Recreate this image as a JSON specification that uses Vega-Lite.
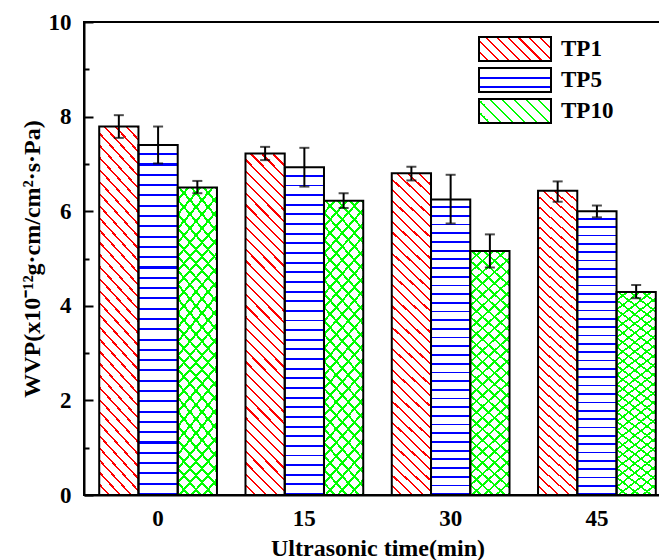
{
  "$schema": "https://vega.github.io/schema/vega-lite/v6.json",
  "width": 587,
  "height": 473,
  "autosize": {"type": "none"},
  "padding": {"left": 84, "top": 22, "right": -12, "bottom": 65},
  "background": "white",
  "config": {
    "view": {"stroke": "black", "strokeWidth": 2},
    "axis": {"domainColor": "black", "domainWidth": 2, "tickColor": "black", "tickWidth": 2, "labelFont": "Liberation Serif", "labelFontSize": 23, "labelFontWeight": "bold", "labelColor": "black", "titleFont": "Liberation Serif", "titleFontSize": 24, "titleFontWeight": "bold", "titleColor": "black", "grid": false}
  },
  "data": {"values": [
    {"time": "0", "series": "TP1", "value": 7.79, "lo": 7.55, "hi": 8.03},
    {"time": "0", "series": "TP5", "value": 7.40, "lo": 7.01, "hi": 7.79},
    {"time": "0", "series": "TP10", "value": 6.50, "lo": 6.38, "hi": 6.64},
    {"time": "15", "series": "TP1", "value": 7.22, "lo": 7.08, "hi": 7.36},
    {"time": "15", "series": "TP5", "value": 6.93, "lo": 6.52, "hi": 7.34},
    {"time": "15", "series": "TP10", "value": 6.22, "lo": 6.07, "hi": 6.38},
    {"time": "30", "series": "TP1", "value": 6.80, "lo": 6.65, "hi": 6.94},
    {"time": "30", "series": "TP5", "value": 6.25, "lo": 5.74, "hi": 6.77},
    {"time": "30", "series": "TP10", "value": 5.16, "lo": 4.81, "hi": 5.51},
    {"time": "45", "series": "TP1", "value": 6.43, "lo": 6.20, "hi": 6.63},
    {"time": "45", "series": "TP5", "value": 6.00, "lo": 5.87, "hi": 6.12},
    {"time": "45", "series": "TP10", "value": 4.29, "lo": 4.16, "hi": 4.44}
  ]},
  "encoding": {
    "x": {"field": "time", "type": "nominal", "sort": ["0", "15", "30", "45"], "title": "Ultrasonic time(min)",
      "scale": {"paddingInner": 0.195, "paddingOuter": 0.104},
      "axis": {"labelAngle": 0, "tickSize": -8, "labelPadding": 20, "titlePadding": 6}},
    "xOffset": {"field": "series", "type": "nominal", "sort": ["TP1", "TP5", "TP10"], "scale": {"domain": ["TP1", "TP5", "TP10"], "paddingInner": 0, "paddingOuter": 0}}
  },
  "layer": [
    {
      "mark": {"type": "bar", "strokeWidth": 0},
      "encoding": {
        "y": {"field": "value", "type": "quantitative", "title": "WVP(x10⁻¹²g·cm/cm²·s·Pa)", "scale": {"domain": [0, 10], "nice": false},
          "axis": {"values": [0, 1, 2, 3, 4, 5, 6, 7, 8, 9, 10], "labelExpr": "datum.value % 2 === 0 ? datum.label : ''", "labelOverlap": false, "labelFlush": false,
            "tickSize": {"condition": {"test": "datum.value % 2 !== 0", "value": -5}, "value": -9}, "labelPadding": 22, "titlePadding": 4}},
        "fill": {"field": "series", "type": "nominal", "sort": ["TP1", "TP5", "TP10"],
          "scale": {"domain": ["TP1", "TP5", "TP10"], "range": [
            {"expr": "{gradient:'linear',x1:0,y1:1,x2:1.2,y2:0.6,stops:[{offset:0.0889,color:'#fff'},{offset:0.0889,color:'#f00'},{offset:0.1111,color:'#f00'},{offset:0.1111,color:'#fff'},{offset:0.2,color:'#fff'},{offset:0.2,color:'#f00'},{offset:0.2222,color:'#f00'},{offset:0.2222,color:'#fff'},{offset:0.3111,color:'#fff'},{offset:0.3111,color:'#f00'},{offset:0.3333,color:'#f00'},{offset:0.3333,color:'#fff'},{offset:0.4222,color:'#fff'},{offset:0.4222,color:'#f00'},{offset:0.4444,color:'#f00'},{offset:0.4444,color:'#fff'},{offset:0.5333,color:'#fff'},{offset:0.5333,color:'#f00'},{offset:0.5556,color:'#f00'},{offset:0.5556,color:'#fff'},{offset:0.6444,color:'#fff'},{offset:0.6444,color:'#f00'},{offset:0.6667,color:'#f00'},{offset:0.6667,color:'#fff'},{offset:0.7556,color:'#fff'},{offset:0.7556,color:'#f00'},{offset:0.7778,color:'#f00'},{offset:0.7778,color:'#fff'},{offset:0.8667,color:'#fff'},{offset:0.8667,color:'#f00'},{offset:0.8889,color:'#f00'},{offset:0.8889,color:'#fff'},{offset:0.9778,color:'#fff'},{offset:0.9778,color:'#f00'},{offset:1,color:'#f00'}]}"},
            {"expr": "{gradient:'linear',x1:0,y1:0,x2:0,y2:1,stops:[{offset:0.38,color:'#fff'},{offset:0.38,color:'#00f'},{offset:0.47,color:'#00f'},{offset:0.47,color:'#fff'},{offset:0.76,color:'#fff'},{offset:0.76,color:'#00f'},{offset:0.85,color:'#00f'},{offset:0.85,color:'#fff'}]}"},
            {"expr": "{gradient:'linear',x1:0,y1:1,x2:1.2,y2:0.6,stops:[{offset:0.0975,color:'#fff'},{offset:0.0975,color:'#0f0'},{offset:0.125,color:'#0f0'},{offset:0.125,color:'#fff'},{offset:0.2225,color:'#fff'},{offset:0.2225,color:'#0f0'},{offset:0.25,color:'#0f0'},{offset:0.25,color:'#fff'},{offset:0.3475,color:'#fff'},{offset:0.3475,color:'#0f0'},{offset:0.375,color:'#0f0'},{offset:0.375,color:'#fff'},{offset:0.4725,color:'#fff'},{offset:0.4725,color:'#0f0'},{offset:0.5,color:'#0f0'},{offset:0.5,color:'#fff'},{offset:0.5975,color:'#fff'},{offset:0.5975,color:'#0f0'},{offset:0.625,color:'#0f0'},{offset:0.625,color:'#fff'},{offset:0.7225,color:'#fff'},{offset:0.7225,color:'#0f0'},{offset:0.75,color:'#0f0'},{offset:0.75,color:'#fff'},{offset:0.8475,color:'#fff'},{offset:0.8475,color:'#0f0'},{offset:0.875,color:'#0f0'},{offset:0.875,color:'#fff'},{offset:0.9725,color:'#fff'},{offset:0.9725,color:'#0f0'},{offset:1,color:'#0f0'}]}"}
          ]},
          "legend": {"orient": "none", "legendX": 418, "legendY": 14, "title": null, "padding": 0,
            "symbolType": "M-3,-1H3V1H-3Z", "symbolSize": 576, "symbolStrokeColor": "black", "symbolStrokeWidth": 2,
            "labelFont": "Liberation Serif", "labelFontSize": 23, "labelFontWeight": "bold", "labelColor": "black", "labelOffset": 33, "rowPadding": -1},
          "condition": [
            {"test": "datum.series === 'TP1'", "value": {"gradient": "linear", "x1": 0, "y1": 1, "x2": 0.129, "y2": -0.102, "stops": [
              {"offset":0.0235,"color":"#fff"},{"offset":0.0235,"color":"#f00"},{"offset":0.0294,"color":"#f00"},{"offset":0.0294,"color":"#fff"},
              {"offset":0.0529,"color":"#fff"},{"offset":0.0529,"color":"#f00"},{"offset":0.0588,"color":"#f00"},{"offset":0.0588,"color":"#fff"},
              {"offset":0.0824,"color":"#fff"},{"offset":0.0824,"color":"#f00"},{"offset":0.0882,"color":"#f00"},{"offset":0.0882,"color":"#fff"},
              {"offset":0.1118,"color":"#fff"},{"offset":0.1118,"color":"#f00"},{"offset":0.1176,"color":"#f00"},{"offset":0.1176,"color":"#fff"},
              {"offset":0.1412,"color":"#fff"},{"offset":0.1412,"color":"#f00"},{"offset":0.1471,"color":"#f00"},{"offset":0.1471,"color":"#fff"},
              {"offset":0.1706,"color":"#fff"},{"offset":0.1706,"color":"#f00"},{"offset":0.1765,"color":"#f00"},{"offset":0.1765,"color":"#fff"},
              {"offset":0.2,"color":"#fff"},{"offset":0.2,"color":"#f00"},{"offset":0.2059,"color":"#f00"},{"offset":0.2059,"color":"#fff"},
              {"offset":0.2294,"color":"#fff"},{"offset":0.2294,"color":"#f00"},{"offset":0.2353,"color":"#f00"},{"offset":0.2353,"color":"#fff"},
              {"offset":0.2588,"color":"#fff"},{"offset":0.2588,"color":"#f00"},{"offset":0.2647,"color":"#f00"},{"offset":0.2647,"color":"#fff"},
              {"offset":0.2882,"color":"#fff"},{"offset":0.2882,"color":"#f00"},{"offset":0.2941,"color":"#f00"},{"offset":0.2941,"color":"#fff"},
              {"offset":0.3176,"color":"#fff"},{"offset":0.3176,"color":"#f00"},{"offset":0.3235,"color":"#f00"},{"offset":0.3235,"color":"#fff"},
              {"offset":0.3471,"color":"#fff"},{"offset":0.3471,"color":"#f00"},{"offset":0.3529,"color":"#f00"},{"offset":0.3529,"color":"#fff"},
              {"offset":0.3765,"color":"#fff"},{"offset":0.3765,"color":"#f00"},{"offset":0.3824,"color":"#f00"},{"offset":0.3824,"color":"#fff"},
              {"offset":0.4059,"color":"#fff"},{"offset":0.4059,"color":"#f00"},{"offset":0.4118,"color":"#f00"},{"offset":0.4118,"color":"#fff"},
              {"offset":0.4353,"color":"#fff"},{"offset":0.4353,"color":"#f00"},{"offset":0.4412,"color":"#f00"},{"offset":0.4412,"color":"#fff"},
              {"offset":0.4647,"color":"#fff"},{"offset":0.4647,"color":"#f00"},{"offset":0.4706,"color":"#f00"},{"offset":0.4706,"color":"#fff"},
              {"offset":0.4941,"color":"#fff"},{"offset":0.4941,"color":"#f00"},{"offset":0.5,"color":"#f00"},{"offset":0.5,"color":"#fff"},
              {"offset":0.5235,"color":"#fff"},{"offset":0.5235,"color":"#f00"},{"offset":0.5294,"color":"#f00"},{"offset":0.5294,"color":"#fff"},
              {"offset":0.5529,"color":"#fff"},{"offset":0.5529,"color":"#f00"},{"offset":0.5588,"color":"#f00"},{"offset":0.5588,"color":"#fff"},
              {"offset":0.5824,"color":"#fff"},{"offset":0.5824,"color":"#f00"},{"offset":0.5882,"color":"#f00"},{"offset":0.5882,"color":"#fff"},
              {"offset":0.6118,"color":"#fff"},{"offset":0.6118,"color":"#f00"},{"offset":0.6176,"color":"#f00"},{"offset":0.6176,"color":"#fff"},
              {"offset":0.6412,"color":"#fff"},{"offset":0.6412,"color":"#f00"},{"offset":0.6471,"color":"#f00"},{"offset":0.6471,"color":"#fff"},
              {"offset":0.6706,"color":"#fff"},{"offset":0.6706,"color":"#f00"},{"offset":0.6765,"color":"#f00"},{"offset":0.6765,"color":"#fff"},
              {"offset":0.7,"color":"#fff"},{"offset":0.7,"color":"#f00"},{"offset":0.7059,"color":"#f00"},{"offset":0.7059,"color":"#fff"},
              {"offset":0.7294,"color":"#fff"},{"offset":0.7294,"color":"#f00"},{"offset":0.7353,"color":"#f00"},{"offset":0.7353,"color":"#fff"},
              {"offset":0.7588,"color":"#fff"},{"offset":0.7588,"color":"#f00"},{"offset":0.7647,"color":"#f00"},{"offset":0.7647,"color":"#fff"},
              {"offset":0.7882,"color":"#fff"},{"offset":0.7882,"color":"#f00"},{"offset":0.7941,"color":"#f00"},{"offset":0.7941,"color":"#fff"},
              {"offset":0.8176,"color":"#fff"},{"offset":0.8176,"color":"#f00"},{"offset":0.8235,"color":"#f00"},{"offset":0.8235,"color":"#fff"},
              {"offset":0.8471,"color":"#fff"},{"offset":0.8471,"color":"#f00"},{"offset":0.8529,"color":"#f00"},{"offset":0.8529,"color":"#fff"},
              {"offset":0.8765,"color":"#fff"},{"offset":0.8765,"color":"#f00"},{"offset":0.8824,"color":"#f00"},{"offset":0.8824,"color":"#fff"},
              {"offset":0.9059,"color":"#fff"},{"offset":0.9059,"color":"#f00"},{"offset":0.9118,"color":"#f00"},{"offset":0.9118,"color":"#fff"},
              {"offset":0.9353,"color":"#fff"},{"offset":0.9353,"color":"#f00"},{"offset":0.9412,"color":"#f00"},{"offset":0.9412,"color":"#fff"},
              {"offset":0.9647,"color":"#fff"},{"offset":0.9647,"color":"#f00"},{"offset":0.9706,"color":"#f00"},{"offset":0.9706,"color":"#fff"},
              {"offset":0.9941,"color":"#fff"},{"offset":0.9941,"color":"#f00"},{"offset":1,"color":"#f00"}]}},
            {"test": "datum.series === 'TP5'", "value": {"gradient": "linear", "x1": 0, "y1": 0, "x2": 0, "y2": 1, "stops": [
              {"offset":0.0235,"color":"#fff"},{"offset":0.0235,"color":"#00f"},{"offset":0.0294,"color":"#00f"},{"offset":0.0294,"color":"#fff"},
              {"offset":0.0529,"color":"#fff"},{"offset":0.0529,"color":"#00f"},{"offset":0.0588,"color":"#00f"},{"offset":0.0588,"color":"#fff"},
              {"offset":0.0824,"color":"#fff"},{"offset":0.0824,"color":"#00f"},{"offset":0.0882,"color":"#00f"},{"offset":0.0882,"color":"#fff"},
              {"offset":0.1118,"color":"#fff"},{"offset":0.1118,"color":"#00f"},{"offset":0.1176,"color":"#00f"},{"offset":0.1176,"color":"#fff"},
              {"offset":0.1412,"color":"#fff"},{"offset":0.1412,"color":"#00f"},{"offset":0.1471,"color":"#00f"},{"offset":0.1471,"color":"#fff"},
              {"offset":0.1706,"color":"#fff"},{"offset":0.1706,"color":"#00f"},{"offset":0.1765,"color":"#00f"},{"offset":0.1765,"color":"#fff"},
              {"offset":0.2,"color":"#fff"},{"offset":0.2,"color":"#00f"},{"offset":0.2059,"color":"#00f"},{"offset":0.2059,"color":"#fff"},
              {"offset":0.2294,"color":"#fff"},{"offset":0.2294,"color":"#00f"},{"offset":0.2353,"color":"#00f"},{"offset":0.2353,"color":"#fff"},
              {"offset":0.2588,"color":"#fff"},{"offset":0.2588,"color":"#00f"},{"offset":0.2647,"color":"#00f"},{"offset":0.2647,"color":"#fff"},
              {"offset":0.2882,"color":"#fff"},{"offset":0.2882,"color":"#00f"},{"offset":0.2941,"color":"#00f"},{"offset":0.2941,"color":"#fff"},
              {"offset":0.3176,"color":"#fff"},{"offset":0.3176,"color":"#00f"},{"offset":0.3235,"color":"#00f"},{"offset":0.3235,"color":"#fff"},
              {"offset":0.3471,"color":"#fff"},{"offset":0.3471,"color":"#00f"},{"offset":0.3529,"color":"#00f"},{"offset":0.3529,"color":"#fff"},
              {"offset":0.3765,"color":"#fff"},{"offset":0.3765,"color":"#00f"},{"offset":0.3824,"color":"#00f"},{"offset":0.3824,"color":"#fff"},
              {"offset":0.4059,"color":"#fff"},{"offset":0.4059,"color":"#00f"},{"offset":0.4118,"color":"#00f"},{"offset":0.4118,"color":"#fff"},
              {"offset":0.4353,"color":"#fff"},{"offset":0.4353,"color":"#00f"},{"offset":0.4412,"color":"#00f"},{"offset":0.4412,"color":"#fff"},
              {"offset":0.4647,"color":"#fff"},{"offset":0.4647,"color":"#00f"},{"offset":0.4706,"color":"#00f"},{"offset":0.4706,"color":"#fff"},
              {"offset":0.4941,"color":"#fff"},{"offset":0.4941,"color":"#00f"},{"offset":0.5,"color":"#00f"},{"offset":0.5,"color":"#fff"},
              {"offset":0.5235,"color":"#fff"},{"offset":0.5235,"color":"#00f"},{"offset":0.5294,"color":"#00f"},{"offset":0.5294,"color":"#fff"},
              {"offset":0.5529,"color":"#fff"},{"offset":0.5529,"color":"#00f"},{"offset":0.5588,"color":"#00f"},{"offset":0.5588,"color":"#fff"},
              {"offset":0.5824,"color":"#fff"},{"offset":0.5824,"color":"#00f"},{"offset":0.5882,"color":"#00f"},{"offset":0.5882,"color":"#fff"},
              {"offset":0.6118,"color":"#fff"},{"offset":0.6118,"color":"#00f"},{"offset":0.6176,"color":"#00f"},{"offset":0.6176,"color":"#fff"},
              {"offset":0.6412,"color":"#fff"},{"offset":0.6412,"color":"#00f"},{"offset":0.6471,"color":"#00f"},{"offset":0.6471,"color":"#fff"},
              {"offset":0.6706,"color":"#fff"},{"offset":0.6706,"color":"#00f"},{"offset":0.6765,"color":"#00f"},{"offset":0.6765,"color":"#fff"},
              {"offset":0.7,"color":"#fff"},{"offset":0.7,"color":"#00f"},{"offset":0.7059,"color":"#00f"},{"offset":0.7059,"color":"#fff"},
              {"offset":0.7294,"color":"#fff"},{"offset":0.7294,"color":"#00f"},{"offset":0.7353,"color":"#00f"},{"offset":0.7353,"color":"#fff"},
              {"offset":0.7588,"color":"#fff"},{"offset":0.7588,"color":"#00f"},{"offset":0.7647,"color":"#00f"},{"offset":0.7647,"color":"#fff"},
              {"offset":0.7882,"color":"#fff"},{"offset":0.7882,"color":"#00f"},{"offset":0.7941,"color":"#00f"},{"offset":0.7941,"color":"#fff"},
              {"offset":0.8176,"color":"#fff"},{"offset":0.8176,"color":"#00f"},{"offset":0.8235,"color":"#00f"},{"offset":0.8235,"color":"#fff"},
              {"offset":0.8471,"color":"#fff"},{"offset":0.8471,"color":"#00f"},{"offset":0.8529,"color":"#00f"},{"offset":0.8529,"color":"#fff"},
              {"offset":0.8765,"color":"#fff"},{"offset":0.8765,"color":"#00f"},{"offset":0.8824,"color":"#00f"},{"offset":0.8824,"color":"#fff"},
              {"offset":0.9059,"color":"#fff"},{"offset":0.9059,"color":"#00f"},{"offset":0.9118,"color":"#00f"},{"offset":0.9118,"color":"#fff"},
              {"offset":0.9353,"color":"#fff"},{"offset":0.9353,"color":"#00f"},{"offset":0.9412,"color":"#00f"},{"offset":0.9412,"color":"#fff"},
              {"offset":0.9647,"color":"#fff"},{"offset":0.9647,"color":"#00f"},{"offset":0.9706,"color":"#00f"},{"offset":0.9706,"color":"#fff"},
              {"offset":0.9941,"color":"#fff"},{"offset":0.9941,"color":"#00f"},{"offset":1,"color":"#00f"}]}},
            {"test": "datum.series === 'TP10'", "value": {"gradient": "linear", "x1": 0, "y1": 1, "x2": 0.1675, "y2": -0.124, "stops": [
              {"offset":0.0312,"color":"#fff"},{"offset":0.0312,"color":"#0f0"},{"offset":0.04,"color":"#0f0"},{"offset":0.04,"color":"#fff"},
              {"offset":0.0712,"color":"#fff"},{"offset":0.0712,"color":"#0f0"},{"offset":0.08,"color":"#0f0"},{"offset":0.08,"color":"#fff"},
              {"offset":0.1112,"color":"#fff"},{"offset":0.1112,"color":"#0f0"},{"offset":0.12,"color":"#0f0"},{"offset":0.12,"color":"#fff"},
              {"offset":0.1512,"color":"#fff"},{"offset":0.1512,"color":"#0f0"},{"offset":0.16,"color":"#0f0"},{"offset":0.16,"color":"#fff"},
              {"offset":0.1912,"color":"#fff"},{"offset":0.1912,"color":"#0f0"},{"offset":0.2,"color":"#0f0"},{"offset":0.2,"color":"#fff"},
              {"offset":0.2312,"color":"#fff"},{"offset":0.2312,"color":"#0f0"},{"offset":0.24,"color":"#0f0"},{"offset":0.24,"color":"#fff"},
              {"offset":0.2712,"color":"#fff"},{"offset":0.2712,"color":"#0f0"},{"offset":0.28,"color":"#0f0"},{"offset":0.28,"color":"#fff"},
              {"offset":0.3112,"color":"#fff"},{"offset":0.3112,"color":"#0f0"},{"offset":0.32,"color":"#0f0"},{"offset":0.32,"color":"#fff"},
              {"offset":0.3512,"color":"#fff"},{"offset":0.3512,"color":"#0f0"},{"offset":0.36,"color":"#0f0"},{"offset":0.36,"color":"#fff"},
              {"offset":0.3912,"color":"#fff"},{"offset":0.3912,"color":"#0f0"},{"offset":0.4,"color":"#0f0"},{"offset":0.4,"color":"#fff"},
              {"offset":0.4312,"color":"#fff"},{"offset":0.4312,"color":"#0f0"},{"offset":0.44,"color":"#0f0"},{"offset":0.44,"color":"#fff"},
              {"offset":0.4712,"color":"#fff"},{"offset":0.4712,"color":"#0f0"},{"offset":0.48,"color":"#0f0"},{"offset":0.48,"color":"#fff"},
              {"offset":0.5112,"color":"#fff"},{"offset":0.5112,"color":"#0f0"},{"offset":0.52,"color":"#0f0"},{"offset":0.52,"color":"#fff"},
              {"offset":0.5512,"color":"#fff"},{"offset":0.5512,"color":"#0f0"},{"offset":0.56,"color":"#0f0"},{"offset":0.56,"color":"#fff"},
              {"offset":0.5912,"color":"#fff"},{"offset":0.5912,"color":"#0f0"},{"offset":0.6,"color":"#0f0"},{"offset":0.6,"color":"#fff"},
              {"offset":0.6312,"color":"#fff"},{"offset":0.6312,"color":"#0f0"},{"offset":0.64,"color":"#0f0"},{"offset":0.64,"color":"#fff"},
              {"offset":0.6712,"color":"#fff"},{"offset":0.6712,"color":"#0f0"},{"offset":0.68,"color":"#0f0"},{"offset":0.68,"color":"#fff"},
              {"offset":0.7112,"color":"#fff"},{"offset":0.7112,"color":"#0f0"},{"offset":0.72,"color":"#0f0"},{"offset":0.72,"color":"#fff"},
              {"offset":0.7512,"color":"#fff"},{"offset":0.7512,"color":"#0f0"},{"offset":0.76,"color":"#0f0"},{"offset":0.76,"color":"#fff"},
              {"offset":0.7912,"color":"#fff"},{"offset":0.7912,"color":"#0f0"},{"offset":0.8,"color":"#0f0"},{"offset":0.8,"color":"#fff"},
              {"offset":0.8312,"color":"#fff"},{"offset":0.8312,"color":"#0f0"},{"offset":0.84,"color":"#0f0"},{"offset":0.84,"color":"#fff"},
              {"offset":0.8712,"color":"#fff"},{"offset":0.8712,"color":"#0f0"},{"offset":0.88,"color":"#0f0"},{"offset":0.88,"color":"#fff"},
              {"offset":0.9112,"color":"#fff"},{"offset":0.9112,"color":"#0f0"},{"offset":0.92,"color":"#0f0"},{"offset":0.92,"color":"#fff"},
              {"offset":0.9512,"color":"#fff"},{"offset":0.9512,"color":"#0f0"},{"offset":0.96,"color":"#0f0"},{"offset":0.96,"color":"#fff"},
              {"offset":0.9912,"color":"#fff"},{"offset":0.9912,"color":"#0f0"},{"offset":1,"color":"#0f0"}]}}
          ]}
      }
    },
    {
      "transform": [{"filter": "datum.series === 'TP10'"}],
      "mark": {"type": "bar", "strokeWidth": 0, "fill": {"gradient": "linear", "x1": 0, "y1": 0, "x2": 0.1675, "y2": 1.124, "stops": [
        {"offset":0.0312,"color":"rgba(0,255,0,0)"},{"offset":0.0312,"color":"#0f0"},{"offset":0.04,"color":"#0f0"},{"offset":0.04,"color":"rgba(0,255,0,0)"},
        {"offset":0.0712,"color":"rgba(0,255,0,0)"},{"offset":0.0712,"color":"#0f0"},{"offset":0.08,"color":"#0f0"},{"offset":0.08,"color":"rgba(0,255,0,0)"},
        {"offset":0.1112,"color":"rgba(0,255,0,0)"},{"offset":0.1112,"color":"#0f0"},{"offset":0.12,"color":"#0f0"},{"offset":0.12,"color":"rgba(0,255,0,0)"},
        {"offset":0.1512,"color":"rgba(0,255,0,0)"},{"offset":0.1512,"color":"#0f0"},{"offset":0.16,"color":"#0f0"},{"offset":0.16,"color":"rgba(0,255,0,0)"},
        {"offset":0.1912,"color":"rgba(0,255,0,0)"},{"offset":0.1912,"color":"#0f0"},{"offset":0.2,"color":"#0f0"},{"offset":0.2,"color":"rgba(0,255,0,0)"},
        {"offset":0.2312,"color":"rgba(0,255,0,0)"},{"offset":0.2312,"color":"#0f0"},{"offset":0.24,"color":"#0f0"},{"offset":0.24,"color":"rgba(0,255,0,0)"},
        {"offset":0.2712,"color":"rgba(0,255,0,0)"},{"offset":0.2712,"color":"#0f0"},{"offset":0.28,"color":"#0f0"},{"offset":0.28,"color":"rgba(0,255,0,0)"},
        {"offset":0.3112,"color":"rgba(0,255,0,0)"},{"offset":0.3112,"color":"#0f0"},{"offset":0.32,"color":"#0f0"},{"offset":0.32,"color":"rgba(0,255,0,0)"},
        {"offset":0.3512,"color":"rgba(0,255,0,0)"},{"offset":0.3512,"color":"#0f0"},{"offset":0.36,"color":"#0f0"},{"offset":0.36,"color":"rgba(0,255,0,0)"},
        {"offset":0.3912,"color":"rgba(0,255,0,0)"},{"offset":0.3912,"color":"#0f0"},{"offset":0.4,"color":"#0f0"},{"offset":0.4,"color":"rgba(0,255,0,0)"},
        {"offset":0.4312,"color":"rgba(0,255,0,0)"},{"offset":0.4312,"color":"#0f0"},{"offset":0.44,"color":"#0f0"},{"offset":0.44,"color":"rgba(0,255,0,0)"},
        {"offset":0.4712,"color":"rgba(0,255,0,0)"},{"offset":0.4712,"color":"#0f0"},{"offset":0.48,"color":"#0f0"},{"offset":0.48,"color":"rgba(0,255,0,0)"},
        {"offset":0.5112,"color":"rgba(0,255,0,0)"},{"offset":0.5112,"color":"#0f0"},{"offset":0.52,"color":"#0f0"},{"offset":0.52,"color":"rgba(0,255,0,0)"},
        {"offset":0.5512,"color":"rgba(0,255,0,0)"},{"offset":0.5512,"color":"#0f0"},{"offset":0.56,"color":"#0f0"},{"offset":0.56,"color":"rgba(0,255,0,0)"},
        {"offset":0.5912,"color":"rgba(0,255,0,0)"},{"offset":0.5912,"color":"#0f0"},{"offset":0.6,"color":"#0f0"},{"offset":0.6,"color":"rgba(0,255,0,0)"},
        {"offset":0.6312,"color":"rgba(0,255,0,0)"},{"offset":0.6312,"color":"#0f0"},{"offset":0.64,"color":"#0f0"},{"offset":0.64,"color":"rgba(0,255,0,0)"},
        {"offset":0.6712,"color":"rgba(0,255,0,0)"},{"offset":0.6712,"color":"#0f0"},{"offset":0.68,"color":"#0f0"},{"offset":0.68,"color":"rgba(0,255,0,0)"},
        {"offset":0.7112,"color":"rgba(0,255,0,0)"},{"offset":0.7112,"color":"#0f0"},{"offset":0.72,"color":"#0f0"},{"offset":0.72,"color":"rgba(0,255,0,0)"},
        {"offset":0.7512,"color":"rgba(0,255,0,0)"},{"offset":0.7512,"color":"#0f0"},{"offset":0.76,"color":"#0f0"},{"offset":0.76,"color":"rgba(0,255,0,0)"},
        {"offset":0.7912,"color":"rgba(0,255,0,0)"},{"offset":0.7912,"color":"#0f0"},{"offset":0.8,"color":"#0f0"},{"offset":0.8,"color":"rgba(0,255,0,0)"},
        {"offset":0.8312,"color":"rgba(0,255,0,0)"},{"offset":0.8312,"color":"#0f0"},{"offset":0.84,"color":"#0f0"},{"offset":0.84,"color":"rgba(0,255,0,0)"},
        {"offset":0.8712,"color":"rgba(0,255,0,0)"},{"offset":0.8712,"color":"#0f0"},{"offset":0.88,"color":"#0f0"},{"offset":0.88,"color":"rgba(0,255,0,0)"},
        {"offset":0.9112,"color":"rgba(0,255,0,0)"},{"offset":0.9112,"color":"#0f0"},{"offset":0.92,"color":"#0f0"},{"offset":0.92,"color":"rgba(0,255,0,0)"},
        {"offset":0.9512,"color":"rgba(0,255,0,0)"},{"offset":0.9512,"color":"#0f0"},{"offset":0.96,"color":"#0f0"},{"offset":0.96,"color":"rgba(0,255,0,0)"},
        {"offset":0.9912,"color":"rgba(0,255,0,0)"},{"offset":0.9912,"color":"#0f0"},{"offset":1,"color":"#0f0"}]}},
      "encoding": {"y": {"field": "value", "type": "quantitative", "title": "WVP(x10⁻¹²g·cm/cm²·s·Pa)"}}
    },
    {
      "mark": {"type": "bar", "fill": "white", "fillOpacity": 0, "stroke": "black", "strokeWidth": 2},
      "encoding": {"y": {"field": "value", "type": "quantitative", "title": "WVP(x10⁻¹²g·cm/cm²·s·Pa)"}}
    },
    {
      "mark": {"type": "rule", "color": "black", "strokeWidth": 2},
      "encoding": {"y": {"field": "lo", "type": "quantitative", "title": "WVP(x10⁻¹²g·cm/cm²·s·Pa)"}, "y2": {"field": "hi"}}
    },
    {
      "mark": {"type": "tick", "color": "black", "thickness": 2, "size": 10},
      "encoding": {"y": {"field": "lo", "type": "quantitative", "title": "WVP(x10⁻¹²g·cm/cm²·s·Pa)"}}
    },
    {
      "mark": {"type": "tick", "color": "black", "thickness": 2, "size": 10},
      "encoding": {"y": {"field": "hi", "type": "quantitative", "title": "WVP(x10⁻¹²g·cm/cm²·s·Pa)"}}
    }
  ]
}
